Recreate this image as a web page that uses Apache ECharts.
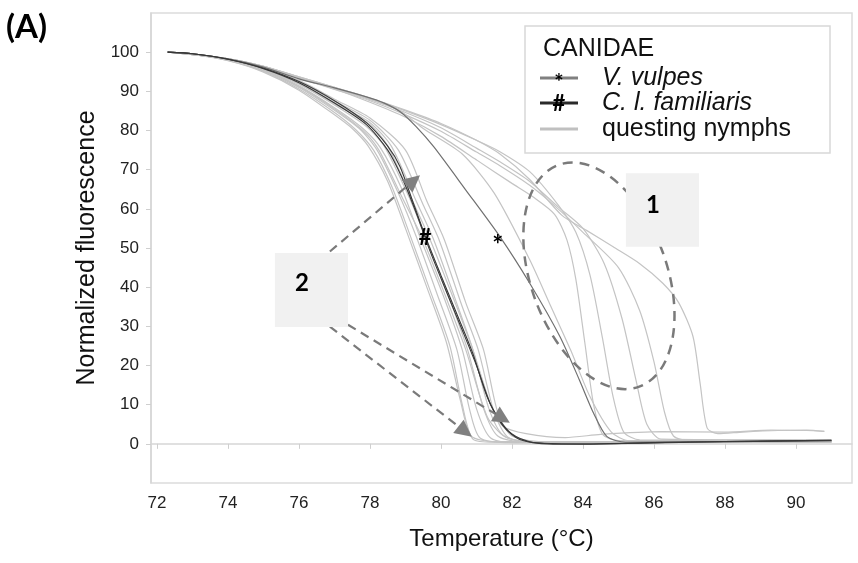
<!DOCTYPE html>
<html><head><meta charset="utf-8">
<script src="https://cdn.jsdelivr.net/npm/echarts@6/dist/echarts.min.js"></script>
<style>html,body{margin:0;padding:0;background:#fff}#c{width:858px;height:563px}</style>
</head><body><div id="c"></div>
<script>
// ---- tick labels ----
const xTicks = [72,74,76,78,80,82,84,86,88,90];
const yTicks = [0,10,20,30,40,50,60,70,80,90,100];

// ---- C. l. familiaris (dark) ----
const familiaris1 = [[72.3,100],[73,99.6],[74,98.2],[75,95.9],[76,92.5],[77,87.6],[77.9,82],[78.5,76],[78.85,70.7],[79.2,62],[79.6,52],[80,43],[80.5,32],[80.9,23],[81.3,12],[81.66,6],[82,2.5],[82.5,0.5],[83,0],[84,-0.1],[86,0.3],[88,0.6],[91,0.9]];
const familiaris2 = [[72.3,100],[73,99.6],[74,98.2],[75,95.8],[76,92.2],[77,87],[77.9,81.5],[78.5,75],[78.9,68],[79.3,59],[79.7,49],[80.1,40],[80.6,29],[81,20],[81.4,10],[81.8,4],[82.2,1.2],[82.8,0.2],[84,0],[87,0.4],[91,0.8]];

// ---- V. vulpes ----
const vulpes1 = [[72.3,100],[73,99.6],[74,98.3],[75,96.2],[76,93.2],[77,90.9],[77.9,88.6],[78.4,87],[78.85,84.8],[79.3,81],[79.8,75.8],[80.7,64.8],[81.66,52.9],[82.5,41],[83.35,27.4],[83.9,16.3],[84.3,7.8],[84.67,1.9],[85.2,0.4],[88,0.6],[91,0.9]];

// ---- questing nymphs: early-melting cluster (2) ----
const nymphA = [[72.3,100],[73,99.5],[74,97.9],[75,95.1],[76,90.6],[77,84.6],[77.6,80.2],[78.1,75],[78.6,66],[79.1,54],[79.7,39],[80.25,25],[80.6,10],[80.9,1.2],[81.5,0.4],[85,0.4],[91,0.5]];
const nymphB = [[72.3,100],[73,99.5],[74,98],[75,95.3],[76,91],[77,85.2],[77.7,80.5],[78.2,75],[78.8,64],[79.3,53],[79.9,38],[80.45,24],[80.8,9],[81.1,1.5],[82,0.3],[86,0.4],[91,0.4]];
const nymphC = [[72.3,100],[73,99.5],[74,98],[75,95.4],[76,91.4],[77,85.8],[77.8,80.5],[78.3,75.5],[78.9,65],[79.4,53],[80.1,37],[80.6,24],[81,9],[81.4,1.5],[82.2,0.3],[87,0.5],[91,0.5]];
const nymphD = [[72.3,100],[73,99.6],[74,98.1],[75,95.6],[76,91.8],[77,86.5],[77.9,81],[78.4,76],[79.1,63],[79.6,52],[80.2,38],[80.75,24],[81.2,9],[81.6,2],[82.4,0.4],[88,0.5],[91,0.6]];
const nymphE = [[72.3,100],[73,99.6],[74,98.2],[75,95.8],[76,92.2],[77,87],[78,82],[78.6,76],[79.3,62],[79.8,52],[80.4,37],[80.9,24],[81.35,9],[81.75,2.2],[82.5,0.5],[88,0.6],[91,0.7]];
const nymphF = [[72.3,100],[73,99.6],[74,98.2],[75,95.9],[76,92.5],[77,87.5],[78,82.6],[78.8,75],[79.5,61],[79.95,52],[80.6,35],[81.05,24],[81.5,8],[81.9,1.6],[82.8,0.4],[91,0.6]];
const nymphG = [[72.3,100],[73,99.6],[74,98.3],[75,96],[76,92.8],[77,88],[78,83.2],[79,75],[79.6,62],[80.1,52],[80.7,36],[81.2,24],[81.6,8],[82,2],[83,0.5],[91,0.7]];
const nymphH = [[72.3,100],[73,99.5],[74,98],[75,95.4],[76,91.2],[77,85.5],[77.8,80],[78.25,75],[78.9,63],[79.5,52],[80.2,36],[80.7,24],[81.3,7],[81.8,1.8],[82.6,0.3],[91,0.4]];
const nymphI = [[72.3,100],[73,99.6],[74,98.1],[75,95.7],[76,92],[77,86.8],[78,81.5],[78.5,76],[79.2,62],[79.7,52],[80.4,36],[80.9,24],[81.4,10],[81.75,4.5],[82.4,2.6],[83.5,1.6],[84.5,2.4],[86.2,3.1],[88,3],[89.3,3.5],[90.3,3.4],[90.8,3.2]];
const nymphJ = [[72.3,100],[73,99.4],[74,97.8],[75,94.9],[76,90.3],[77,84],[77.5,80.5],[77.95,76],[78.5,67],[79,55],[79.6,40],[80.15,26],[80.55,11],[80.85,2],[81.5,0.6],[91,0.6]];

// ---- questing nymphs: late-melting group (1) ----
const nymphK = [[72.3,100],[74,98.3],[75,96.3],[76,93.5],[77,90.6],[78,87.2],[79,83.4],[80,78.5],[81,72.5],[82,66.5],[82.6,63],[83.2,58.6],[83.55,52],[83.8,42],[84.05,26],[84.3,10],[84.55,2.5],[85,0.8],[91,0.8]];
const nymphL = [[72.3,100],[74,98.3],[75,96.4],[76,93.7],[77,91],[78,88.2],[79,85],[80,81.5],[81,77.5],[81.66,74.6],[82.5,69.5],[83.3,61],[83.8,54],[84.2,43],[84.55,27],[84.85,12],[85.15,3],[85.6,1],[91,0.9]];
const nymphM = [[72.3,100],[74,98.3],[75,96.4],[76,93.6],[77,90.9],[78,88],[79,84.6],[80,80.7],[81,75.5],[81.66,72],[82.5,67],[83.3,60.5],[84,55],[84.6,46],[85.1,32],[85.5,16],[85.8,5],[86.2,1.2],[91,1]];
const nymphN = [[72.3,100],[74,98.3],[75,96.4],[76,93.7],[77,91],[78,88.3],[79,85.2],[80,81.8],[81,77.5],[81.66,74],[82.5,67.5],[83.4,58.4],[84.1,54.5],[84.85,50.3],[85.6,46],[86.25,41],[86.7,36],[87.1,27.4],[87.3,15.5],[87.5,4],[87.8,2.6],[88.5,3],[89.5,3.4],[90.3,3.5],[90.8,3.2]];
const nymphO = [[72.3,100],[74,98.3],[75,96.3],[76,93.4],[77,90.5],[78,87.6],[79,84],[80,79.8],[81,74.5],[81.66,71],[82.5,66],[83.3,60],[84,54],[85,45],[85.6,34],[86,21],[86.3,8],[86.55,2],[87,0.8],[91,0.9]];
const nymphP = [[72.3,100],[74,98.3],[75,96.2],[76,93.3],[77,90.7],[77.9,88.2],[78.85,85],[79.5,80.5],[80.6,74],[81.5,64],[82.5,47],[83.1,35],[83.65,24],[84.2,12],[84.8,3],[85.3,0.8],[91,0.8]];

const nymphCurves = [nymphA,nymphB,nymphC,nymphD,nymphE,nymphF,nymphG,nymphH,nymphI,nymphJ,nymphK,nymphL,nymphM,nymphN,nymphO,nymphP];
const vulpesCurves = [vulpes1];
const familiarisCurves = [familiaris1,familiaris2];

const FONT = 'Liberation Sans, Arial, sans-serif';
const BOLDFONT = 'Lato, Liberation Sans, sans-serif';
const cNymph = '#c4c4c4', cVulpes = '#707070', cFam = '#383838';

function mk(data, color, w, z){
  return {type:'line', data:data, showSymbol:false, smooth:0.25,
    lineStyle:{color:color, width:w}, itemStyle:{color:color}, z:z, silent:true, animation:false};
}
const series = [];
nymphCurves.forEach(d=>series.push(mk(d,cNymph,1.2,2)));
vulpesCurves.forEach(d=>series.push(mk(d,cVulpes,1.2,3)));
familiarisCurves.forEach(d=>series.push(mk(d,cFam,1.1,4)));

const chart = echarts.init(document.getElementById('c'), null, {renderer:'canvas'});
chart.setOption({
  animation:false,
  backgroundColor:'#fff',
  grid:{left:151, right:6, top:13, bottom:80, show:true, borderColor:'#dcdcdc', borderWidth:1.5},
  xAxis:{type:'value', min:71.83, max:91.58,
    name:'Temperature (°C)', nameLocation:'middle', nameGap:44,
    nameTextStyle:{fontFamily:FONT, fontSize:24, color:'#111'},
    axisLine:{lineStyle:{color:'#d6d6d6', width:1.5}},
    axisTick:{customValues:xTicks, length:5, lineStyle:{color:'#cfcfcf'}},
    axisLabel:{customValues:xTicks, fontFamily:FONT, fontSize:17, color:'#222', margin:12},
    splitLine:{show:false}},
  yAxis:{type:'value', min:-10, max:110,
    name:'Normalized fluorescence', nameLocation:'middle', nameGap:31, nameRotate:90,
    nameTextStyle:{fontFamily:FONT, fontSize:25, color:'#111'},
    axisLine:{show:true, lineStyle:{color:'#d6d6d6', width:1.5}},
    axisTick:{show:true, customValues:yTicks, length:5, lineStyle:{color:'#cfcfcf'}},
    axisLabel:{customValues:yTicks, fontFamily:FONT, fontSize:17, color:'#222', margin:12},
    splitLine:{show:false}},
  series:series
});

// ---- annotations, anchored in data coordinates ----
function P(t,v){ return chart.convertToPixel({gridIndex:0},[t,v]); }
const g = [];
const dashGrey = '#7a7a7a';
const ec = P(84.45,42.9);
g.push({type:'ellipse', shape:{cx:0, cy:0, rx:68, ry:118}, x:ec[0], y:ec[1], rotation:20*Math.PI/180,
  style:{fill:null, stroke:dashGrey, lineWidth:2.5, lineDash:[10,7]}, z:100});
function box(t0,v0,t1,v1,label,lt,lv){
  const a=P(t0,v0), b=P(t1,v1);
  g.push({type:'rect', shape:{x:a[0], y:a[1], width:b[0]-a[0], height:b[1]-a[1]}, style:{fill:'#f1f1f1'}, z:101});
  const c=P(lt,lv);
  g.push({type:'text', x:c[0], y:c[1], style:{text:label, font:'bold 24px '+BOLDFONT, fill:'#000', align:'center', verticalAlign:'middle'}, z:102});
}
box(85.21,69.1,87.27,50.3,'1',85.97,61.0);
box(75.32,48.7,77.38,29.8,'2',76.08,41.1);
function arrow(t0,v0,t1,v1){
  const a=P(t0,v0), b=P(t1,v1);
  const dx=b[0]-a[0], dy=b[1]-a[1], L=Math.hypot(dx,dy), ux=dx/L, uy=dy/L;
  const hl=17, hw=8.5;
  const bx=b[0]-ux*hl, by=b[1]-uy*hl;
  g.push({type:'line', shape:{x1:a[0],y1:a[1],x2:bx,y2:by}, style:{stroke:dashGrey, lineWidth:2.2, lineDash:[9,6]}, z:100});
  g.push({type:'polygon', shape:{points:[[b[0],b[1]],[bx-uy*hw,by+ux*hw],[bx+uy*hw,by-ux*hw]]}, style:{fill:'#808080'}, z:100});
}
arrow(76.87,49.1,79.41,68.6);
arrow(76.87,29.9,80.87,1.8);
arrow(77.38,30.4,81.94,5.4);
const hp=P(79.55,52.6), sp=P(81.6,51.3);
g.push({type:'text', x:hp[0], y:hp[1], style:{text:'#', font:'bold 22px '+BOLDFONT, fill:'#000', align:'center', verticalAlign:'middle'}, z:103});
g.push({type:'text', x:sp[0], y:sp[1]+3, style:{text:'*', font:'bold 26px '+BOLDFONT, fill:'#000', align:'center', verticalAlign:'middle'}, z:103});
g.push({type:'text', x:6, y:27, style:{text:'(A)', font:'bold 33px '+BOLDFONT, fill:'#000', verticalAlign:'middle'}, z:103});
// legend
g.push({type:'rect', shape:{x:525, y:26, width:305, height:127}, style:{fill:'#fff', stroke:'#d8d8d8', lineWidth:1.5}, z:104});
g.push({type:'text', x:543, y:49, style:{text:'CANIDAE', font:'25px '+FONT, fill:'#111', verticalAlign:'middle'}, z:105});
const legItems = [
  {y:78, color:'#808080', mark:'*', text:'V. vulpes', italic:true},
  {y:103, color:'#2a2a2a', mark:'#', text:'C. l. familiaris', italic:true},
  {y:129, color:'#c0c0c0', mark:'', text:'questing nymphs', italic:false}
];
legItems.forEach(it=>{
  g.push({type:'line', shape:{x1:540,y1:it.y,x2:578,y2:it.y}, style:{stroke:it.color, lineWidth:3}, z:105});
  if(it.mark) g.push({type:'text', x:559, y:it.y+(it.mark==='*'?5:1), style:{text:it.mark, font:'bold 22px '+BOLDFONT, fill:'#000', align:'center', verticalAlign:'middle'}, z:106});
  g.push({type:'text', x:602, y:it.y, style:{text:it.text, font:(it.italic?'italic ':'')+'25px '+FONT, fill:'#111', verticalAlign:'middle'}, z:105});
});
chart.setOption({graphic:{elements:g}});
</script>
</body></html>
